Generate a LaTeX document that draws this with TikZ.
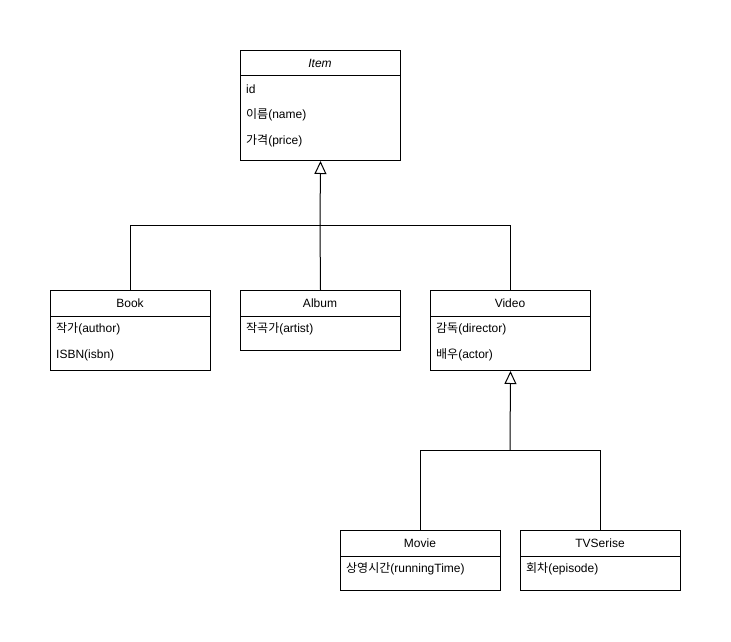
\documentclass[tikz,border=0pt]{standalone}
\usepackage{fontspec}
\setmainfont{Liberation Sans}
\newfontfamily\kr{Noto Sans CJK KR}
\usetikzlibrary{arrows.meta}
\begin{document}
\begin{tikzpicture}[x=1pt,y=-1pt,
  classbox/.style={draw=black,line width=1pt,fill=white,anchor=north west,minimum width=160pt,inner sep=0pt},
  title/.style={font=\fontsize{12}{14}\selectfont,inner sep=0pt,anchor=center},
  attr/.style={font=\fontsize{12}{14}\selectfont,inner sep=0pt,anchor=west},
  conn/.style={line width=1pt,draw=black},
  inherit/.style={conn,-{Triangle[open,length=13pt,width=12pt,line width=1pt]}}]
\useasboundingbox[fill=white] (0,0) rectangle (731,642);

% Item
\node[classbox,minimum height=110pt] (item) at (240,50) {};
\draw[conn] (240,76) -- (400,76);
\node[title] (itemT) at (320,63) {\itshape Item};
\node[attr] (itemA1) at (246,89) {id};
\node[attr] (itemA2) at (246,115) {{\kr 이름}(name)};
\node[attr] (itemA3) at (246,141) {{\kr 가격}(price)};

% Book
\node[classbox,minimum height=80pt] (book) at (50,290) {};
\draw[conn] (50,316) -- (210,316);
\node[title] (bookT) at (130,303) {Book};
\node[attr] (bookA1) at (56,329) {{\kr 작가}(author)};
\node[attr] (bookA2) at (56,355) {ISBN(isbn)};

% Album
\node[classbox,minimum height=60pt] (album) at (240,290) {};
\draw[conn] (240,316) -- (400,316);
\node[title] (albumT) at (320,303) {Album};
\node[attr] (albumA1) at (246,329) {{\kr 작곡가}(artist)};

% Video
\node[classbox,minimum height=80pt] (video) at (430,290) {};
\draw[conn] (430,316) -- (590,316);
\node[title] (videoT) at (510,303) {Video};
\node[attr] (videoA1) at (436,329) {{\kr 감독}(director)};
\node[attr] (videoA2) at (436,355) {{\kr 배우}(actor)};

% Movie
\node[classbox,minimum height=60pt] (movie) at (340,530) {};
\draw[conn] (340,556) -- (500,556);
\node[title] (movieT) at (420,543) {Movie};
\node[attr] (movieA1) at (346,569) {{\kr 상영시간}(runningTime)};

% TVSerise
\node[classbox,minimum height=60pt] (tv) at (520,530) {};
\draw[conn] (520,556) -- (680,556);
\node[title] (tvT) at (600,543) {TVSerise};
\node[attr] (tvA1) at (526,569) {{\kr 회차}(episode)};

% connectors
\coordinate (j1) at (320,225);
\draw[conn] (book.north) |- (j1);
\draw[conn] (video.north) |- (j1);
\draw[conn] (album.north) -- (j1);
\draw[inherit] (j1) -- (item.south);

\coordinate (j2) at (510,450);
\draw[conn] (movie.north) |- (j2);
\draw[conn] (tv.north) |- (j2);
\draw[inherit] (j2) -- (video.south);
\end{tikzpicture}
\end{document}
